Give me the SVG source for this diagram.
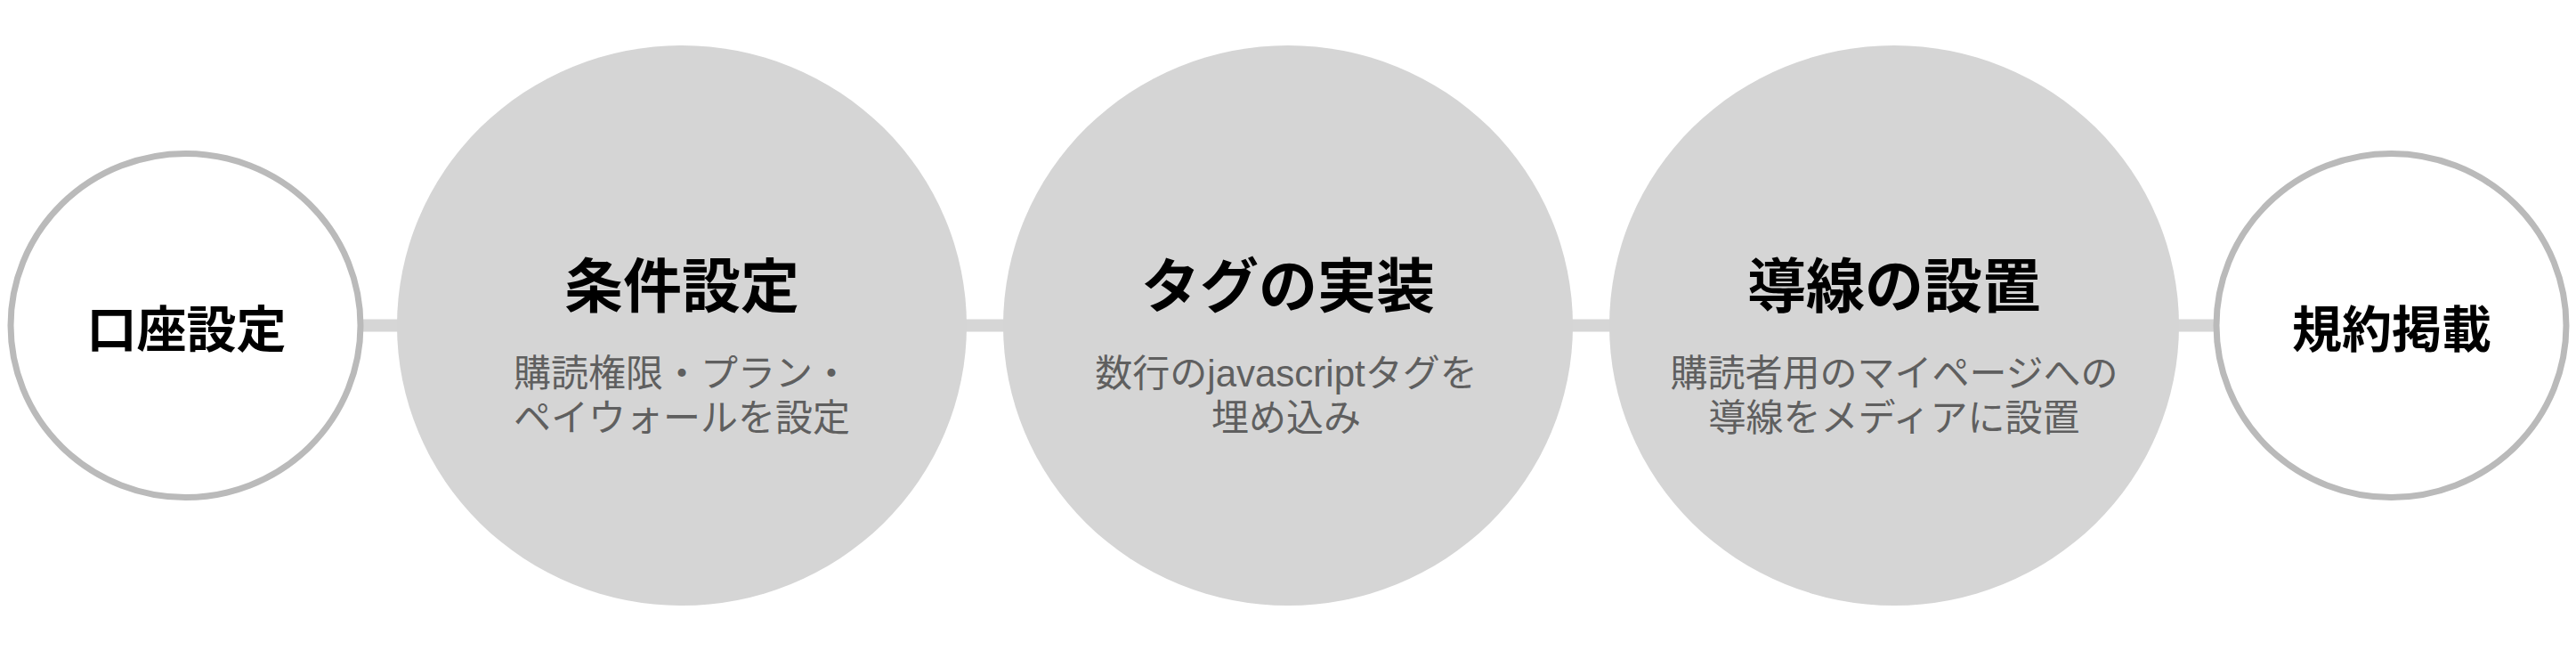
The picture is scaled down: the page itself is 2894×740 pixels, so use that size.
<svg xmlns="http://www.w3.org/2000/svg" width="2894" height="740" viewBox="0 0 2894 740">
<style>
.bg{fill:#ffffff}
.conn{stroke:#d6d6d6;stroke-width:14;fill:none}
.small{fill:#ffffff;stroke:#bababa;stroke-width:7}
.big{fill:#d5d5d5;stroke:none}
.t{font-family:"Noto Sans CJK JP","Noto Sans CJK SC",sans-serif;font-weight:700;fill:#000000;text-anchor:middle}
.ts{font-size:56px}
.tb{font-size:66px}
.sub{font-family:"Liberation Sans","Noto Sans CJK JP",sans-serif;font-size:42px;fill:#5f5f5f;text-anchor:middle}
</style>
<rect class="bg" x="0" y="0" width="2894" height="740"/>
<g id="connectors">
<line class="conn" x1="400" y1="365.5" x2="460" y2="365.5"/>
<line class="conn" x1="1075" y1="365.5" x2="1138" y2="365.5"/>
<line class="conn" x1="1756" y1="365.5" x2="1819" y2="365.5"/>
<line class="conn" x1="2437" y1="365.5" x2="2495" y2="365.5"/>
</g>
<g id="node1">
<ellipse class="small" cx="208.5" cy="365.5" rx="196.5" ry="193"/>
<text class="t ts" x="209.5" y="390">口座設定</text>
</g>
<g id="node2">
<ellipse class="big" cx="766" cy="365.5" rx="320" ry="314.5"/>
<text class="t tb" x="766" y="345">条件設定</text>
<text class="sub" x="766" y="434">購読権限・プラン・</text>
<text class="sub" x="766" y="484">ペイウォールを設定</text>
</g>
<g id="node3">
<ellipse class="big" cx="1447" cy="365.5" rx="320" ry="314.5"/>
<text class="t tb" x="1447" y="345">タグの実装</text>
<text class="sub" x="1445" y="434">数行のjavascriptタグを</text>
<text class="sub" x="1445" y="484">埋め込み</text>
</g>
<g id="node4">
<ellipse class="big" cx="2128" cy="365.5" rx="320" ry="314.5"/>
<text class="t tb" x="2128" y="345">導線の設置</text>
<text class="sub" x="2128" y="434">購読者用のマイページへの</text>
<text class="sub" x="2128" y="484">導線をメディアに設置</text>
</g>
<g id="node5">
<ellipse class="small" cx="2686.5" cy="365.5" rx="196.5" ry="193"/>
<text class="t ts" x="2687" y="390">規約掲載</text>
</g>
</svg>
